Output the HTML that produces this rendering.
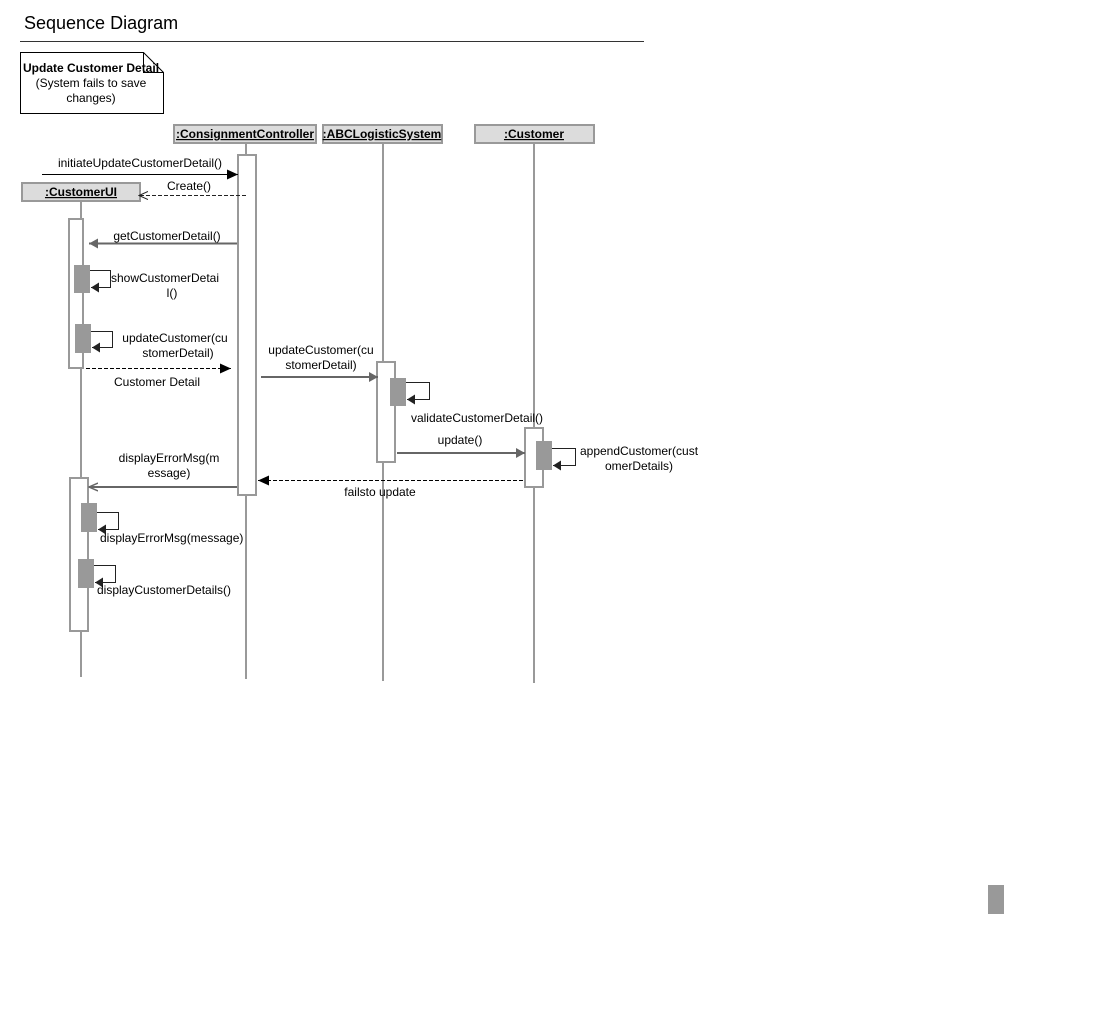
<!DOCTYPE html>
<html><head><meta charset="utf-8"><style>
html,body{margin:0;padding:0;background:#fff;width:1104px;height:1014px;overflow:hidden}
svg{display:block}
text{font-family:"Liberation Sans",Arial,sans-serif;font-size:12px;fill:#000}
.h{font-weight:bold;text-decoration:underline;font-size:12px}
</style></head><body>
<svg width="1104" height="1014" viewBox="0 0 1104 1014" xmlns="http://www.w3.org/2000/svg">
<defs>
<marker id="fb" markerWidth="12" markerHeight="10" refX="11" refY="5" orient="auto" markerUnits="userSpaceOnUse"><path d="M0,0 L11,5 L0,10 z" fill="#000"/></marker>
<marker id="fg" markerWidth="10" markerHeight="10" refX="9" refY="5" orient="auto" markerUnits="userSpaceOnUse"><path d="M0,0 L9,5 L0,10 z" fill="#666"/></marker>
<marker id="sb" markerWidth="9" markerHeight="10" refX="8" refY="5" orient="auto" markerUnits="userSpaceOnUse"><path d="M0,0 L8,5 L0,10 z" fill="#222"/></marker>
<marker id="og" markerWidth="10" markerHeight="10" refX="9" refY="5" orient="auto" markerUnits="userSpaceOnUse"><path d="M0,1 L9,5 L0,9" fill="none" stroke="#666" stroke-width="1.5"/></marker>
<marker id="ob" markerWidth="10" markerHeight="10" refX="9" refY="5" orient="auto" markerUnits="userSpaceOnUse"><path d="M0,1 L9,5 L0,9" fill="none" stroke="#222" stroke-width="1"/></marker>
</defs>
<text x="24" y="29" style="font-size:18px">Sequence Diagram</text>
<line x1="20" y1="41.5" x2="644" y2="41.5" stroke="#333" stroke-width="1"/>
<path d="M20.5,52.5 H143.5 L163.5,72.5 V113.5 H20.5 Z" fill="#fff" stroke="#000"/>
<path d="M143.5,52.5 V72.5 H163.5" fill="none" stroke="#000"/>
<text x="23" y="72" style="font-weight:bold">Update Customer Detail</text>
<text x="91" y="87" text-anchor="middle">(System fails to save</text>
<text x="91" y="102" text-anchor="middle">changes)</text>
<g stroke="#999" stroke-width="2">
<line x1="246" y1="143" x2="246" y2="679"/>
<line x1="383" y1="143" x2="383" y2="681"/>
<line x1="534" y1="143" x2="534" y2="683"/>
<line x1="81" y1="201" x2="81" y2="677"/>
</g>
<g fill="#dcdcdc" stroke="#999" stroke-width="2">
<rect x="174" y="125" width="142" height="18"/>
<rect x="323" y="125" width="119" height="18"/>
<rect x="475" y="125" width="119" height="18"/>
<rect x="22" y="183" width="118" height="18"/>
</g>
<text class="h" x="245" y="138" text-anchor="middle">:ConsignmentController</text>
<text class="h" x="382" y="138" text-anchor="middle">:ABCLogisticSystem</text>
<text class="h" x="534" y="138" text-anchor="middle">:Customer</text>
<text class="h" x="81" y="196" text-anchor="middle">:CustomerUI</text>
<g fill="#fff" stroke="#999" stroke-width="2">
<rect x="238" y="155" width="18" height="340"/>
<rect x="69" y="219" width="14" height="149"/>
<rect x="70" y="478" width="18" height="153"/>
<rect x="377" y="362" width="18" height="100"/>
<rect x="525" y="428" width="18" height="59"/>
</g>
<g fill="#999">
<rect x="74" y="265" width="16" height="28"/>
<rect x="75" y="324" width="16" height="29"/>
<rect x="390" y="378" width="16" height="28"/>
<rect x="536" y="441" width="16" height="29"/>
<rect x="81" y="503" width="16" height="29"/>
<rect x="78" y="559" width="16" height="29"/>
<rect x="988" y="885" width="16" height="29"/>
</g>
<g fill="none" stroke="#222" stroke-width="1">
<path d="M90,270.5 H110.5 V287.5 H91" marker-end="url(#sb)"/>
<path d="M91,331.5 H112.5 V347.5 H92" marker-end="url(#sb)"/>
<path d="M406,382.5 H429.5 V399.5 H407" marker-end="url(#sb)"/>
<path d="M552,448.5 H575.5 V465.5 H553" marker-end="url(#sb)"/>
<path d="M97,512.5 H118.5 V529.5 H98" marker-end="url(#sb)"/>
<path d="M94,565.5 H115.5 V582.5 H95" marker-end="url(#sb)"/>
</g>
<line x1="42" y1="174.5" x2="238" y2="174.5" stroke="#000" marker-end="url(#fb)"/>
<line x1="246" y1="195.5" x2="139" y2="195.5" stroke="#222" stroke-dasharray="4,2" marker-end="url(#ob)"/>
<line x1="237" y1="243.5" x2="89" y2="243.5" stroke="#666" stroke-width="2" marker-end="url(#fg)"/>
<line x1="86" y1="368.5" x2="231" y2="368.5" stroke="#000" stroke-dasharray="4,2" marker-end="url(#fb)"/>
<line x1="261" y1="377" x2="378" y2="377" stroke="#666" stroke-width="2" marker-end="url(#fg)"/>
<line x1="397" y1="453" x2="525" y2="453" stroke="#666" stroke-width="2" marker-end="url(#fg)"/>
<line x1="523" y1="480.5" x2="258" y2="480.5" stroke="#000" stroke-dasharray="4,2" marker-end="url(#fb)"/>
<line x1="237" y1="487" x2="89" y2="487" stroke="#666" stroke-width="2" marker-end="url(#og)"/>
<text x="140" y="167" text-anchor="middle">initiateUpdateCustomerDetail()</text>
<text x="189" y="190" text-anchor="middle">Create()</text>
<text x="167" y="240" text-anchor="middle">getCustomerDetail()</text>
<text x="165" y="282" text-anchor="middle">showCustomerDetai</text>
<text x="172" y="297" text-anchor="middle">l()</text>
<text x="175" y="342" text-anchor="middle">updateCustomer(cu</text>
<text x="178" y="357" text-anchor="middle">stomerDetail)</text>
<text x="157" y="386" text-anchor="middle">Customer Detail</text>
<text x="321" y="354" text-anchor="middle">updateCustomer(cu</text>
<text x="321" y="369" text-anchor="middle">stomerDetail)</text>
<text x="477" y="422" text-anchor="middle">validateCustomerDetail()</text>
<text x="460" y="444" text-anchor="middle">update()</text>
<text x="639" y="455" text-anchor="middle">appendCustomer(cust</text>
<text x="639" y="470" text-anchor="middle">omerDetails)</text>
<text x="380" y="496" text-anchor="middle">failsto update</text>
<text x="169" y="462" text-anchor="middle">displayErrorMsg(m</text>
<text x="169" y="477" text-anchor="middle">essage)</text>
<text x="100" y="542">displayErrorMsg(message)</text>
<text x="97" y="594">displayCustomerDetails()</text>
</svg>
</body></html>
